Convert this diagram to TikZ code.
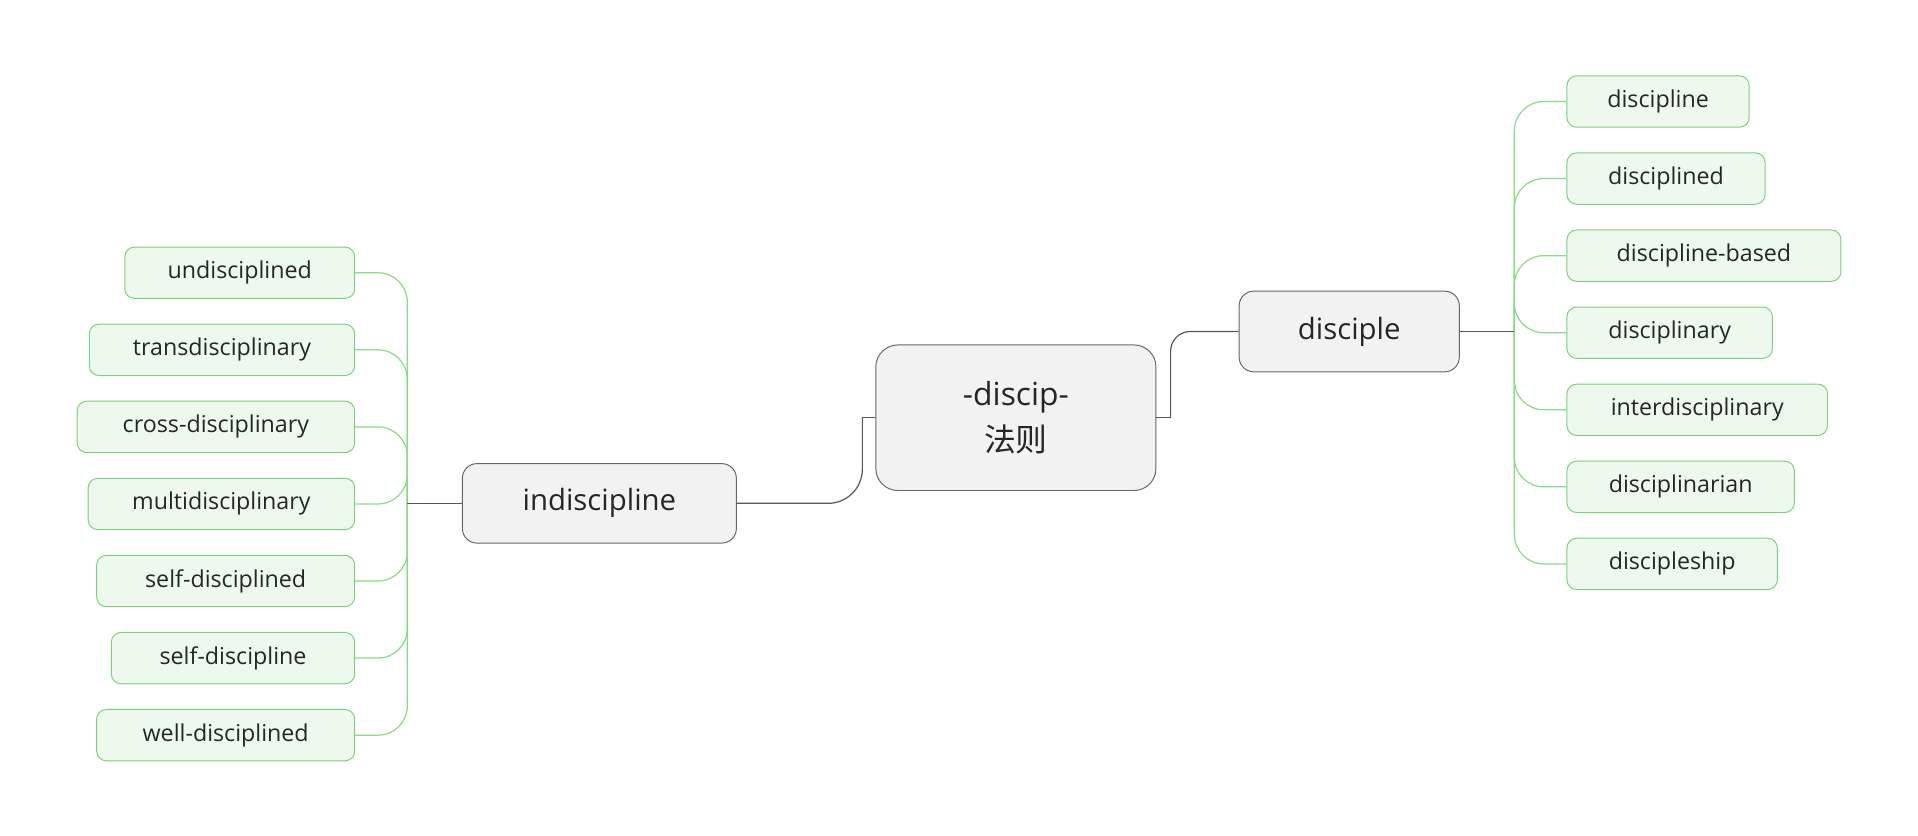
\documentclass[tikz,border=0pt]{standalone}
\usepackage{fontspec}
\setmainfont{Open Sans}
\newfontfamily\cjk{Noto Sans CJK SC}
\begin{document}
\begin{tikzpicture}[x=0.5pt,y=-0.5pt,
  leaf/.style={draw=green!45!gray!70, fill=green!5!white!95!gray, rounded corners=4pt, minimum height=21pt, inner sep=0pt, font=\fontsize{9.5}{11}\selectfont, text=black!85},
  mainbox/.style={draw=gray!80!black, fill=blue!3!gray!10, rounded corners=6pt, inner sep=0pt, text=black!85},
  gl/.style={draw=green!50!gray!60, line width=0.5pt},
  ml/.style={draw=gray!70!black, line width=0.5pt}]
\useasboundingbox (0,0) rectangle (1568,683);
\node[mainbox, minimum width=114.5pt, minimum height=59.5pt, align=center, font=\fontsize{13}{19}\selectfont, rounded corners=9pt] (root) at (830.5,341.5) {-discip-\\{\cjk 法则}};
\node[mainbox, minimum width=90pt, minimum height=33pt, font=\fontsize{12}{14}\selectfont] (disc) at (1103,271) {disciple};
\node[mainbox, minimum width=112pt, minimum height=32.5pt, font=\fontsize{12}{14}\selectfont] (ind) at (490,411.5) {indiscipline};
\foreach \n/\t/\r/\y in {r1/discipline/1430/83, r2/disciplined/1443/146, r3/discipline-based/1505/209, r4/disciplinary/1449/272, r5/interdisciplinary/1494/335, r6/disciplinarian/1467/398, r7/discipleship/1453/461}{
  \node[leaf, minimum width={(\r-1281)*0.5pt}] (\n) at ({(1281+\r)/2},\y) {\t};
  \draw[gl, rounded corners=12pt] (1238,271) |- (\n.west);
}
\foreach \n/\t/\l/\y in {l1/undisciplined/102/223, l2/transdisciplinary/73/286, l3/cross-disciplinary/63/349, l4/multidisciplinary/72/412, l5/self-disciplined/79/475, l6/self-discipline/91/538, l7/well-disciplined/79/601}{
  \node[leaf, minimum width={(290-\l)*0.5pt}] (\n) at ({(290+\l)/2},\y) {\t};
  \draw[gl, rounded corners=12pt] (333,411.5) |- (\n.east);
}
\draw[ml] (disc.east) -- (1238,271);
\draw[ml] (ind.west) -- (333,411.5);
\draw[ml] (root.west) -- (705,341.5);
\draw[ml, rounded corners=14pt] (705,341.5) |- (ind.east);
\draw[ml] (root.east) -- (957,341.5);
\draw[ml, rounded corners=8pt] (957,341.5) |- (disc.west);
\end{tikzpicture}
\end{document}
